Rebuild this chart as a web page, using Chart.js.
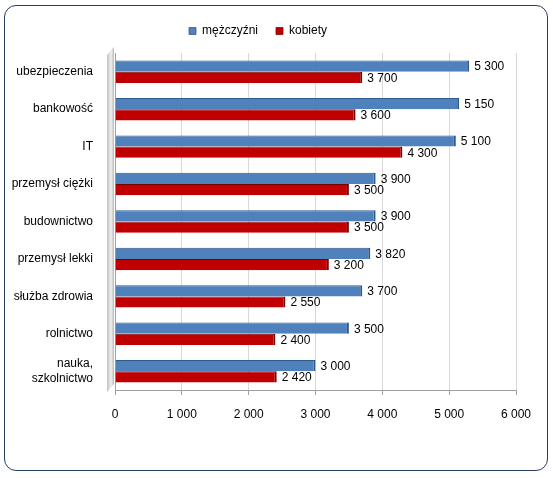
<!DOCTYPE html>
<html>
<head>
<meta charset="utf-8">
<script src="https://cdn.jsdelivr.net/npm/chart.js@4"></script>
<style>
  body { margin: 0; background: #fff; }
  #frame {
    position: absolute; left: 4px; top: 5px; width: 542px; height: 464px;
    border: 1.5px solid #243F60; border-radius: 12px;
  }
  #wrap { position: absolute; left: 0; top: 0; width: 553px; height: 478px; }
</style>
</head>
<body>
<div id="frame"></div>
<div id="wrap"><canvas id="chart" width="553" height="478"></canvas></div>
<script>
// dane z wykresu
const categories = ['ubezpieczenia', 'bankowość', 'IT', 'przemysł ciężki', 'budownictwo',
  'przemysł lekki', 'służba zdrowia', 'rolnictwo', ['nauka,', 'szkolnictwo']];
const seriesNames = ['mężczyźni', 'kobiety'];
const men = [5300, 5150, 5100, 3900, 3900, 3820, 3700, 3500, 3000];
const women = [3700, 3600, 4300, 3500, 3500, 3200, 2550, 2400, 2420];
const xTicks = [0, 1000, 2000, 3000, 4000, 5000, 6000];

const fontFamily = "'Liberation Sans', Arial, sans-serif";

function fmt(v) {
  return String(v).replace(/\B(?=(\d{3})+(?!\d))/g, ' ');
}

// etykiety wartości przy końcach słupków
const valueLabels = {
  id: 'valueLabels',
  afterDatasetsDraw(chart) {
    const ctx = chart.ctx;
    ctx.save();
    ctx.font = '12px ' + fontFamily;
    ctx.fillStyle = '#000';
    ctx.textBaseline = 'middle';
    chart.data.datasets.forEach((ds, i) => {
      chart.getDatasetMeta(i).data.forEach((bar, j) => {
        ctx.fillText(fmt(ds.data[j]), bar.x + 5, bar.y + 1);
      });
    });
    ctx.restore();
  }
};

// trochę więcej miejsca pod legendą
const legendSpace = {
  id: 'legendSpace',
  beforeInit(chart) {
    const lg = chart.legend;
    if (!lg) return;
    const fit = lg.fit;
    lg.fit = function () {
      fit.call(this);
      this.height += 6;
    };
  }
};

// szara ścianka 3D po lewej stronie
const wall = {
  id: 'wall',
  beforeDatasetsDraw(chart) {
    const { ctx, chartArea } = chart;
    const l = chartArea.left;
    ctx.save();
    const g = ctx.createLinearGradient(l - 8, 0, l, 0);
    g.addColorStop(0, '#bfbfbf');
    g.addColorStop(0.5, '#f2f2f2');
    g.addColorStop(1, '#a6a6a6');
    ctx.fillStyle = g;
    ctx.beginPath();
    ctx.moveTo(l - 8, chartArea.top + 2);
    ctx.lineTo(l - 1, chartArea.top - 6);
    ctx.lineTo(l - 1, chartArea.bottom - 6);
    ctx.lineTo(l - 8, chartArea.bottom + 2);
    ctx.closePath();
    ctx.fill();
    ctx.restore();
  }
};

const chart = new Chart(document.getElementById('chart'), {
  type: 'bar',
  data: {
    labels: categories,
    datasets: [
      {
        label: seriesNames[0],
        data: men,
        backgroundColor: '#4F81BD',
        borderColor: '#2E5A8E',
        borderWidth: { top: 1, right: 2, bottom: 0, left: 0 },
        borderSkipped: false
      },
      {
        label: seriesNames[1],
        data: women,
        backgroundColor: '#C00000',
        borderColor: '#7A0000',
        borderWidth: { top: 1, right: 2, bottom: 0, left: 0 },
        borderSkipped: false
      }
    ]
  },
  options: {
    indexAxis: 'y',
    responsive: false,
    animation: false,
    layout: { padding: { top: 7, right: 37, bottom: 48, left: 0 } },
    datasets: { bar: { categoryPercentage: 0.6, barPercentage: 1 } },
    plugins: {
      legend: {
        position: 'top',
        labels: {
          boxWidth: 7, boxHeight: 7, padding: 18,
          color: '#000',
          font: { family: fontFamily, size: 12 }
        }
      },
      tooltip: { enabled: false }
    },
    scales: {
      x: {
        min: 0, max: 6000,
        afterBuildTicks(scale) { scale.ticks = xTicks.map(v => ({ value: v })); },
        afterFit(scale) { scale.height = 40; },
        grid: { color: '#d9d9d9', tickColor: '#a0a0a0', tickLength: 5 },
        border: { color: '#a0a0a0' },
        ticks: {
          padding: 12, color: '#000',
          font: { family: fontFamily, size: 12 },
          callback: v => fmt(v)
        }
      },
      y: {
        afterFit(scale) { scale.width = 115; },
        grid: { display: false, drawTicks: false },
        border: { color: '#a0a0a0' },
        ticks: {
          padding: 22, color: '#000',
          font: { family: fontFamily, size: 12 }
        }
      }
    }
  },
  plugins: [legendSpace, wall, valueLabels]
});
</script>
</body>
</html>
